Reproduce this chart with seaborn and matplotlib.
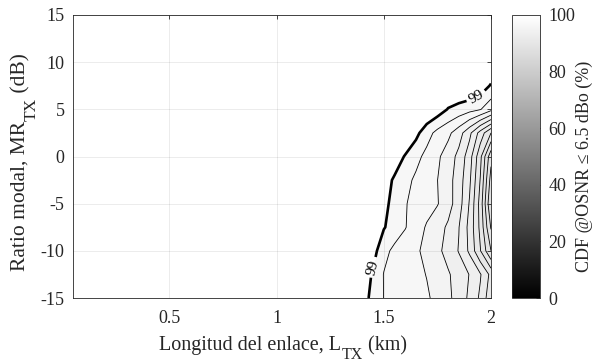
import numpy as np
import matplotlib
matplotlib.use("Agg")
import matplotlib.pyplot as plt
import seaborn as sns
from matplotlib import cm, colors

# Link length (km) and transmitter modal ratio (dB) sample grid
length_km = [0.05, 1.35, 1.40, 1.45, 1.50, 1.55, 1.60, 1.65, 1.70,
             1.75, 1.80, 1.85, 1.90, 1.95, 2.00]
ratio_db = [-15, -12.5, -10, -7.5, -5, -2.5, 0, 2.5, 5, 7.5, 10, 12.5, 15]

# CDF (%) of OSNR <= 6.5 dBo, one row per modal ratio
cdf_pct = [
    [100, 100, 99.43, 98.69, 97.98, 97.76, 97.55, 97.33, 97.12, 96.75, 96.22, 95.57, 94.80, 93.82, 92.30],
    [100, 100, 99.63, 98.87, 97.96, 97.71, 97.47, 97.23, 96.97, 96.54, 96.11, 95.56, 94.96, 94.09, 92.71],
    [100, 100, 100, 99.39, 98.30, 97.76, 97.45, 97.15, 96.74, 96.24, 95.64, 94.94, 93.81, 92.06, 90.00],
    [100, 100, 100, 99.79, 99.07, 98.55, 98.05, 97.47, 96.90, 96.40, 95.84, 95.03, 93.68, 91.75, 88.90],
    [100, 100, 100, 100, 99.29, 98.65, 98.06, 97.71, 97.38, 97.06, 96.41, 95.45, 93.91, 91.63, 88.00],
    [100, 100, 100, 100, 99.50, 98.84, 98.30, 97.82, 97.41, 97.01, 96.37, 95.51, 94.18, 91.95, 88.60],
    [100, 100, 100, 100, 100, 99.61, 98.91, 98.30, 97.72, 97.18, 96.53, 95.72, 94.45, 92.28, 89.30],
    [100, 100, 100, 100, 100, 100, 100, 99.29, 98.40, 97.71, 97.24, 96.44, 95.25, 93.60, 92.00],
    [100, 100, 100, 100, 100, 100, 100, 100, 100, 99.57, 98.94, 98.65, 98.35, 98.06, 97.30],
    [100, 100, 100, 100, 100, 100, 100, 100, 100, 100, 100, 100, 100, 99.60, 98.90],
    [100] * 15,
    [100] * 15,
    [100] * 15,
]

x_ticks = [0.5, 1, 1.5, 2]
y_ticks = [-15, -10, -5, 0, 5, 10, 15]
cbar_ticks = [0, 20, 40, 60, 80, 100]

sns.set_theme(style="white")
plt.rcParams["font.family"] = ["Liberation Serif", "DejaVu Serif"]
plt.rcParams["axes.unicode_minus"] = False

ink = "#262626"
W_PX, H_PX = 599, 364
fig = plt.figure(figsize=(W_PX / 100, H_PX / 100), dpi=100)
ax = fig.add_axes([0.1219, 0.1813, 0.6978, 0.7775])
cax = fig.add_axes([0.8548, 0.1813, 0.0467, 0.7775])

X, Y = np.meshgrid(np.array(length_km), np.array(ratio_db))
Z = np.array(cdf_pct, dtype=float)

# 64-step gray shading per band, top band left white
fill_levels = np.arange(0, 101, 1)
band_colors = [cm.gray(np.floor(v / 100.0 * 63) / 63) for v in fill_levels[:-2]] + ["white"]
ax.contourf(X, Y, Z, levels=fill_levels, colors=band_colors)
ax.contour(X, Y, Z, levels=np.arange(80, 99, 1), colors="black", linewidths=0.6)
thick = ax.contour(X, Y, Z, levels=[99], colors="black", linewidths=1.9)
ax.clabel(thick, fmt="%d", fontsize=11, inline=True, inline_spacing=3,
          manual=[(1.93, 6.4), (1.44, -11.7)])

ax.set_xlim(0.05, 2)
ax.set_ylim(-15, 15)
ax.set_xticks(x_ticks)
ax.set_xticklabels([f"{t:g}" for t in x_ticks])
ax.set_yticks(y_ticks)
ax.set_yticklabels([str(t) for t in y_ticks])
ax.grid(True, color=ink, alpha=0.10, linewidth=0.6)
ax.set_axisbelow(False)
ax.tick_params(direction="in", length=3, width=0.6, colors=ink, labelsize=13,
               top=True, right=True)
ax.tick_params(axis="x", pad=8.5)
ax.tick_params(axis="y", pad=6)
for s in ax.spines.values():
    s.set_color(ink)
    s.set_linewidth(0.6)

sm = cm.ScalarMappable(norm=colors.Normalize(0, 100), cmap="gray")
cb = fig.colorbar(sm, cax=cax)
cb.set_ticks(cbar_ticks)
cb.ax.tick_params(direction="in", length=3, width=0.6, colors=ink, labelsize=13, pad=6)
cb.outline.set_edgecolor(ink)
cb.outline.set_linewidth(0.6)

renderer = fig.canvas.get_renderer()


def compose(pieces, center_px, baseline_px, vertical=False):
    """Lay out text pieces (text, size, drop_px) along one baseline, centred."""
    arts = []
    for txt, size, drop in pieces:
        t = fig.text(0, 0, txt, fontsize=size, color=ink, ha="left", va="baseline",
                     rotation=90 if vertical else 0, rotation_mode="anchor")
        bb = t.get_window_extent(renderer)
        arts.append((t, bb.height if vertical else bb.width, drop))
    total = sum(a[1] for a in arts)
    cursor = center_px - total / 2
    for t, size_px, drop in arts:
        if vertical:
            t.set_position(((baseline_px + drop) / W_PX, cursor / H_PX))
        else:
            t.set_position((cursor / W_PX, (baseline_px - drop) / H_PX))
        cursor += size_px


# axis titles with full-size lowered subscripts
compose([("Longitud del enlace, L", 14.5, 0), ("TX", 11.5, 9), (" (km)", 14.5, 0)],
        center_px=283, baseline_px=H_PX - 350)
compose([("Ratio modal, MR", 15.5, 0), ("TX", 12.5, 11), (" (dB)", 15.5, 0)],
        center_px=H_PX - 162, baseline_px=25, vertical=True)
compose([("CDF @OSNR ≤ 6.5 dBo (%)", 13, 0)],
        center_px=H_PX - 166, baseline_px=589, vertical=True)

fig.savefig("out.png", dpi=100)
